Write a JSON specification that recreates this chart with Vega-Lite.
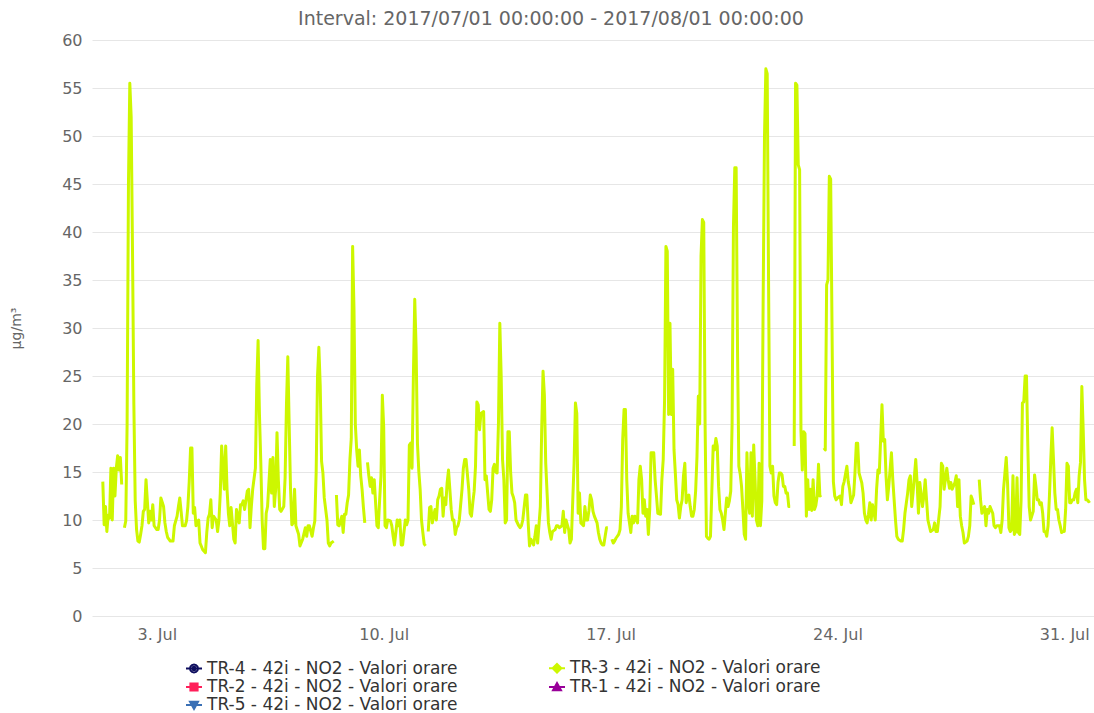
{
  "$schema": "https://vega.github.io/schema/vega-lite/v6.json",
  "width": 1002,
  "height": 576,
  "autosize": {"type": "none"},
  "padding": {"left": 92, "top": 40, "right": 0, "bottom": 97},
  "background": "white",
  "title": {"text": "Interval: 2017/07/01 00:00:00 - 2017/08/01 00:00:00", "anchor": "middle", "frame": "group", "dx": -42, "offset": 3, "fontSize": 19, "font": "DejaVu Sans", "fontWeight": "normal", "color": "#666666"},
  "config": {"view": {"stroke": null}, "font": "DejaVu Sans"},
  "data": {"values": [
    {"t":"2017-07-01T08:00","v":14.0},{"t":"2017-07-01T09:00","v":9.5},{"t":"2017-07-01T10:00","v":11.4},{"t":"2017-07-01T11:00","v":8.8},{"t":"2017-07-01T12:00","v":10.5},{"t":"2017-07-01T13:00","v":10.2},{"t":"2017-07-01T14:00","v":15.4},{"t":"2017-07-01T15:00","v":10.0},{"t":"2017-07-01T16:00","v":15.4},{"t":"2017-07-01T17:00","v":12.5},{"t":"2017-07-01T18:00","v":15.4},{"t":"2017-07-01T19:00","v":16.7},{"t":"2017-07-01T20:00","v":15.2},{"t":"2017-07-01T21:00","v":16.5},{"t":"2017-07-01T22:00","v":13.7},{"t":"2017-07-01T23:00","v":null},
    {"t":"2017-07-02T00:00","v":9.2},{"t":"2017-07-02T01:00","v":9.9},{"t":"2017-07-02T02:00","v":20},{"t":"2017-07-02T03:00","v":45},{"t":"2017-07-02T04:00","v":55.5},{"t":"2017-07-02T05:00","v":52},{"t":"2017-07-02T06:00","v":38},{"t":"2017-07-02T07:00","v":22},{"t":"2017-07-02T08:00","v":12},{"t":"2017-07-02T09:00","v":9},{"t":"2017-07-02T10:00","v":7.8},{"t":"2017-07-02T11:00","v":7.7},{"t":"2017-07-02T12:00","v":8.5},{"t":"2017-07-02T13:00","v":9.4},{"t":"2017-07-02T14:00","v":10.9},{"t":"2017-07-02T15:00","v":11.1},{"t":"2017-07-02T16:00","v":14.2},{"t":"2017-07-02T18:00","v":9.7},{"t":"2017-07-02T19:00","v":10.9},{"t":"2017-07-02T20:00","v":10.0},{"t":"2017-07-02T21:00","v":11.6},{"t":"2017-07-02T22:00","v":9.4},
    {"t":"2017-07-03T00:00","v":9.0},{"t":"2017-07-03T01:00","v":9.0},{"t":"2017-07-03T02:00","v":10.0},{"t":"2017-07-03T03:00","v":12.3},{"t":"2017-07-03T05:00","v":11.4},{"t":"2017-07-03T06:00","v":9.7},{"t":"2017-07-03T07:00","v":8.8},{"t":"2017-07-03T08:00","v":8.2},{"t":"2017-07-03T10:00","v":7.8},{"t":"2017-07-03T12:00","v":7.8},{"t":"2017-07-03T13:00","v":9.4},{"t":"2017-07-03T15:00","v":10.4},{"t":"2017-07-03T16:00","v":11.4},{"t":"2017-07-03T17:00","v":12.3},{"t":"2017-07-03T18:00","v":10.9},{"t":"2017-07-03T19:00","v":9.4},{"t":"2017-07-03T21:00","v":9.4},{"t":"2017-07-03T22:00","v":9.9},{"t":"2017-07-03T23:00","v":11.4},
    {"t":"2017-07-04T00:00","v":14},{"t":"2017-07-04T01:00","v":17.5},{"t":"2017-07-04T02:00","v":17.5},{"t":"2017-07-04T03:00","v":10.7},{"t":"2017-07-04T04:00","v":11.3},{"t":"2017-07-04T05:00","v":9.4},{"t":"2017-07-04T07:00","v":10.0},{"t":"2017-07-04T08:00","v":7.6},{"t":"2017-07-04T10:00","v":6.9},{"t":"2017-07-04T12:00","v":6.6},{"t":"2017-07-04T13:00","v":8.7},{"t":"2017-07-04T14:00","v":10.2},{"t":"2017-07-04T15:00","v":10.6},{"t":"2017-07-04T16:00","v":12.1},{"t":"2017-07-04T17:00","v":9.2},{"t":"2017-07-04T18:00","v":10.4},{"t":"2017-07-04T20:00","v":10.0},{"t":"2017-07-04T21:00","v":8.8},{"t":"2017-07-04T22:00","v":10.0},{"t":"2017-07-04T23:00","v":12.8},
    {"t":"2017-07-05T00:00","v":17.7},{"t":"2017-07-05T02:00","v":13.2},{"t":"2017-07-05T03:00","v":17.7},{"t":"2017-07-05T04:00","v":13.2},{"t":"2017-07-05T05:00","v":10.7},{"t":"2017-07-05T06:00","v":9.4},{"t":"2017-07-05T07:00","v":11.3},{"t":"2017-07-05T09:00","v":8.0},{"t":"2017-07-05T10:00","v":7.6},{"t":"2017-07-05T11:00","v":11.1},{"t":"2017-07-05T13:00","v":9.7},{"t":"2017-07-05T14:00","v":11.6},{"t":"2017-07-05T15:00","v":11.6},{"t":"2017-07-05T16:00","v":12.0},{"t":"2017-07-05T17:00","v":11.1},{"t":"2017-07-05T19:00","v":13.0},{"t":"2017-07-05T20:00","v":13.2},{"t":"2017-07-05T21:00","v":9.2},{"t":"2017-07-05T22:00","v":11.4},{"t":"2017-07-05T23:00","v":13.2},
    {"t":"2017-07-06T01:00","v":15.4},{"t":"2017-07-06T02:00","v":24},{"t":"2017-07-06T03:00","v":28.7},{"t":"2017-07-06T04:00","v":21},{"t":"2017-07-06T05:00","v":16},{"t":"2017-07-06T06:00","v":10},{"t":"2017-07-06T07:00","v":7.0},{"t":"2017-07-06T08:00","v":7.0},{"t":"2017-07-06T09:00","v":10.7},{"t":"2017-07-06T10:00","v":11.4},{"t":"2017-07-06T12:00","v":16.3},{"t":"2017-07-06T13:00","v":12.8},{"t":"2017-07-06T14:00","v":16.5},{"t":"2017-07-06T15:00","v":11.4},{"t":"2017-07-06T16:00","v":13.2},{"t":"2017-07-06T17:00","v":19.1},{"t":"2017-07-06T18:00","v":14.2},{"t":"2017-07-06T19:00","v":11.1},{"t":"2017-07-06T20:00","v":10.9},{"t":"2017-07-06T22:00","v":11.4},{"t":"2017-07-06T23:00","v":14.4},
    {"t":"2017-07-07T00:00","v":22},{"t":"2017-07-07T01:00","v":27},{"t":"2017-07-07T02:00","v":20},{"t":"2017-07-07T03:00","v":13.3},{"t":"2017-07-07T04:00","v":9.5},{"t":"2017-07-07T05:00","v":9.7},{"t":"2017-07-07T06:00","v":13.2},{"t":"2017-07-07T07:00","v":9.4},{"t":"2017-07-07T09:00","v":8.5},{"t":"2017-07-07T10:00","v":7.3},{"t":"2017-07-07T12:00","v":8.0},{"t":"2017-07-07T14:00","v":9.2},{"t":"2017-07-07T15:00","v":8.3},{"t":"2017-07-07T16:00","v":9.4},{"t":"2017-07-07T17:00","v":9.4},{"t":"2017-07-07T19:00","v":8.3},{"t":"2017-07-07T20:00","v":9.2},{"t":"2017-07-07T21:00","v":9.9},{"t":"2017-07-07T22:00","v":15},{"t":"2017-07-07T23:00","v":25},
    {"t":"2017-07-08T00:00","v":28},{"t":"2017-07-08T01:00","v":24},{"t":"2017-07-08T02:00","v":16.1},{"t":"2017-07-08T03:00","v":14.9},{"t":"2017-07-08T04:00","v":12.3},{"t":"2017-07-08T06:00","v":10.0},{"t":"2017-07-08T07:00","v":7.6},{"t":"2017-07-08T08:00","v":7.3},{"t":"2017-07-08T09:00","v":7.6},{"t":"2017-07-08T11:00","v":7.8},{"t":"2017-07-08T12:00","v":null},{"t":"2017-07-08T13:00","v":12.6},{"t":"2017-07-08T14:00","v":9.5},{"t":"2017-07-08T15:00","v":9.4},{"t":"2017-07-08T17:00","v":10.4},{"t":"2017-07-08T18:00","v":8.7},{"t":"2017-07-08T19:00","v":10.6},{"t":"2017-07-08T20:00","v":10.6},{"t":"2017-07-08T21:00","v":11.8},{"t":"2017-07-08T22:00","v":12.6},{"t":"2017-07-08T23:00","v":16.3},
    {"t":"2017-07-09T00:00","v":18.5},{"t":"2017-07-09T01:00","v":38.5},{"t":"2017-07-09T02:00","v":32},{"t":"2017-07-09T03:00","v":20},{"t":"2017-07-09T04:00","v":17.3},{"t":"2017-07-09T05:00","v":15.6},{"t":"2017-07-09T06:00","v":17.3},{"t":"2017-07-09T07:00","v":14.6},{"t":"2017-07-09T08:00","v":13.2},{"t":"2017-07-09T09:00","v":11.3},{"t":"2017-07-09T10:00","v":9.7},{"t":"2017-07-09T11:00","v":null},{"t":"2017-07-09T12:00","v":16.0},{"t":"2017-07-09T13:00","v":14.6},{"t":"2017-07-09T14:00","v":13.5},{"t":"2017-07-09T15:00","v":14.4},{"t":"2017-07-09T16:00","v":12.8},{"t":"2017-07-09T17:00","v":14.2},{"t":"2017-07-09T19:00","v":9.4},{"t":"2017-07-09T20:00","v":9.2},{"t":"2017-07-09T21:00","v":12.1},{"t":"2017-07-09T22:00","v":14.6},{"t":"2017-07-09T23:00","v":23},
    {"t":"2017-07-10T00:00","v":19.7},{"t":"2017-07-10T01:00","v":9.4},{"t":"2017-07-10T02:00","v":9.2},{"t":"2017-07-10T03:00","v":10.0},{"t":"2017-07-10T05:00","v":9.9},{"t":"2017-07-10T06:00","v":9.4},{"t":"2017-07-10T07:00","v":8.3},{"t":"2017-07-10T08:00","v":7.4},{"t":"2017-07-10T10:00","v":10.0},{"t":"2017-07-10T11:00","v":9.4},{"t":"2017-07-10T12:00","v":10.0},{"t":"2017-07-10T13:00","v":7.4},{"t":"2017-07-10T14:00","v":7.4},{"t":"2017-07-10T16:00","v":10.0},{"t":"2017-07-10T17:00","v":9.5},{"t":"2017-07-10T18:00","v":10.0},{"t":"2017-07-10T19:00","v":17.8},{"t":"2017-07-10T20:00","v":18.0},{"t":"2017-07-10T21:00","v":15.4},{"t":"2017-07-10T22:00","v":25},{"t":"2017-07-10T23:00","v":33},
    {"t":"2017-07-11T00:00","v":28},{"t":"2017-07-11T01:00","v":18},{"t":"2017-07-11T02:00","v":15.1},{"t":"2017-07-11T03:00","v":13.2},{"t":"2017-07-11T04:00","v":10.0},{"t":"2017-07-11T05:00","v":8.7},{"t":"2017-07-11T06:00","v":7.5},{"t":"2017-07-11T07:00","v":7.3},{"t":"2017-07-11T08:00","v":null},{"t":"2017-07-11T09:00","v":8.8},{"t":"2017-07-11T10:00","v":11.3},{"t":"2017-07-11T11:00","v":11.4},{"t":"2017-07-11T12:00","v":9.7},{"t":"2017-07-11T13:00","v":10.4},{"t":"2017-07-11T14:00","v":11.1},{"t":"2017-07-11T15:00","v":10.0},{"t":"2017-07-11T16:00","v":12.1},{"t":"2017-07-11T17:00","v":12.5},{"t":"2017-07-11T18:00","v":13.2},{"t":"2017-07-11T19:00","v":13.3},{"t":"2017-07-11T20:00","v":10.4},{"t":"2017-07-11T21:00","v":12.3},{"t":"2017-07-11T22:00","v":11.6},{"t":"2017-07-11T23:00","v":13.9},
    {"t":"2017-07-12T00:00","v":15.2},{"t":"2017-07-12T01:00","v":13.2},{"t":"2017-07-12T02:00","v":11.1},{"t":"2017-07-12T03:00","v":10.0},{"t":"2017-07-12T04:00","v":10.0},{"t":"2017-07-12T05:00","v":8.5},{"t":"2017-07-12T06:00","v":9.2},{"t":"2017-07-12T07:00","v":9.4},{"t":"2017-07-12T08:00","v":10.0},{"t":"2017-07-12T10:00","v":13.2},{"t":"2017-07-12T11:00","v":15.4},{"t":"2017-07-12T12:00","v":16.3},{"t":"2017-07-12T13:00","v":16.3},{"t":"2017-07-12T15:00","v":13.2},{"t":"2017-07-12T16:00","v":10.7},{"t":"2017-07-12T17:00","v":10.4},{"t":"2017-07-12T18:00","v":11.8},{"t":"2017-07-12T19:00","v":13},{"t":"2017-07-12T20:00","v":15.6},{"t":"2017-07-12T21:00","v":22.3},{"t":"2017-07-12T22:00","v":22.0},{"t":"2017-07-12T23:00","v":19.4},
    {"t":"2017-07-13T00:00","v":21.1},{"t":"2017-07-13T02:00","v":21.3},{"t":"2017-07-13T03:00","v":14.2},{"t":"2017-07-13T04:00","v":14.6},{"t":"2017-07-13T05:00","v":12.8},{"t":"2017-07-13T06:00","v":11.1},{"t":"2017-07-13T07:00","v":10.9},{"t":"2017-07-13T08:00","v":12.1},{"t":"2017-07-13T09:00","v":15.4},{"t":"2017-07-13T10:00","v":15.8},{"t":"2017-07-13T11:00","v":15},{"t":"2017-07-13T12:00","v":14.9},{"t":"2017-07-13T13:00","v":20.1},{"t":"2017-07-13T14:00","v":30.5},{"t":"2017-07-13T15:00","v":25},{"t":"2017-07-13T16:00","v":16.3},{"t":"2017-07-13T17:00","v":14.2},{"t":"2017-07-13T18:00","v":9.7},{"t":"2017-07-13T19:00","v":10.0},{"t":"2017-07-13T20:00","v":19.2},{"t":"2017-07-13T21:00","v":19.2},{"t":"2017-07-13T22:00","v":15},{"t":"2017-07-13T23:00","v":12.8},
    {"t":"2017-07-14T00:00","v":12.4},{"t":"2017-07-14T01:00","v":11.8},{"t":"2017-07-14T02:00","v":10.0},{"t":"2017-07-14T04:00","v":9.4},{"t":"2017-07-14T05:00","v":9.2},{"t":"2017-07-14T06:00","v":9.4},{"t":"2017-07-14T07:00","v":10.0},{"t":"2017-07-14T09:00","v":12.6},{"t":"2017-07-14T10:00","v":12.6},{"t":"2017-07-14T11:00","v":9.7},{"t":"2017-07-14T12:00","v":7.3},{"t":"2017-07-14T13:00","v":8.0},{"t":"2017-07-14T15:00","v":7.4},{"t":"2017-07-14T16:00","v":8.3},{"t":"2017-07-14T17:00","v":9.4},{"t":"2017-07-14T18:00","v":7.6},{"t":"2017-07-14T20:00","v":11.4},{"t":"2017-07-14T21:00","v":19.4},{"t":"2017-07-14T22:00","v":25.5},{"t":"2017-07-14T23:00","v":23},
    {"t":"2017-07-15T00:00","v":15.9},{"t":"2017-07-15T01:00","v":12.8},{"t":"2017-07-15T02:00","v":9.7},{"t":"2017-07-15T03:00","v":8.7},{"t":"2017-07-15T04:00","v":8.0},{"t":"2017-07-15T05:00","v":8.8},{"t":"2017-07-15T07:00","v":9.0},{"t":"2017-07-15T08:00","v":9.4},{"t":"2017-07-15T09:00","v":9.4},{"t":"2017-07-15T10:00","v":9.2},{"t":"2017-07-15T12:00","v":9.4},{"t":"2017-07-15T13:00","v":10.9},{"t":"2017-07-15T14:00","v":8.7},{"t":"2017-07-15T15:00","v":10.0},{"t":"2017-07-15T17:00","v":9.0},{"t":"2017-07-15T18:00","v":7.6},{"t":"2017-07-15T19:00","v":8.0},{"t":"2017-07-15T20:00","v":12},{"t":"2017-07-15T21:00","v":15.9},{"t":"2017-07-15T22:00","v":22.2},{"t":"2017-07-15T23:00","v":21.1},
    {"t":"2017-07-16T00:00","v":10.7},{"t":"2017-07-16T01:00","v":12.8},{"t":"2017-07-16T02:00","v":9.7},{"t":"2017-07-16T04:00","v":9.4},{"t":"2017-07-16T05:00","v":11.4},{"t":"2017-07-16T06:00","v":10.0},{"t":"2017-07-16T07:00","v":10.0},{"t":"2017-07-16T08:00","v":11},{"t":"2017-07-16T09:00","v":12.6},{"t":"2017-07-16T10:00","v":12.1},{"t":"2017-07-16T11:00","v":10.9},{"t":"2017-07-16T12:00","v":10.4},{"t":"2017-07-16T14:00","v":9.7},{"t":"2017-07-16T15:00","v":8.7},{"t":"2017-07-16T16:00","v":8.0},{"t":"2017-07-16T17:00","v":7.6},{"t":"2017-07-16T18:00","v":7.4},{"t":"2017-07-16T19:00","v":7.4},{"t":"2017-07-16T20:00","v":8.3},{"t":"2017-07-16T21:00","v":9.2},{"t":"2017-07-16T22:00","v":9.2},{"t":"2017-07-16T23:00","v":null},
    {"t":"2017-07-17T01:00","v":8.0},{"t":"2017-07-17T02:00","v":7.6},{"t":"2017-07-17T03:00","v":7.8},{"t":"2017-07-17T04:00","v":8.1},{"t":"2017-07-17T06:00","v":8.5},{"t":"2017-07-17T07:00","v":9.0},{"t":"2017-07-17T08:00","v":11.4},{"t":"2017-07-17T09:00","v":18.4},{"t":"2017-07-17T10:00","v":21.5},{"t":"2017-07-17T11:00","v":21.5},{"t":"2017-07-17T12:00","v":14.2},{"t":"2017-07-17T13:00","v":10.7},{"t":"2017-07-17T14:00","v":9.7},{"t":"2017-07-17T15:00","v":8.7},{"t":"2017-07-17T16:00","v":10.4},{"t":"2017-07-17T17:00","v":9.7},{"t":"2017-07-17T18:00","v":10.4},{"t":"2017-07-17T20:00","v":9.7},{"t":"2017-07-17T21:00","v":14.2},{"t":"2017-07-17T22:00","v":15.6},{"t":"2017-07-17T23:00","v":14.2},
    {"t":"2017-07-18T00:00","v":10.7},{"t":"2017-07-18T01:00","v":12.1},{"t":"2017-07-18T02:00","v":10.4},{"t":"2017-07-18T03:00","v":11.1},{"t":"2017-07-18T04:00","v":8.5},{"t":"2017-07-18T05:00","v":11.1},{"t":"2017-07-18T06:00","v":17.0},{"t":"2017-07-18T08:00","v":17.0},{"t":"2017-07-18T09:00","v":14.2},{"t":"2017-07-18T10:00","v":12.5},{"t":"2017-07-18T11:00","v":10.7},{"t":"2017-07-18T13:00","v":10.6},{"t":"2017-07-18T14:00","v":14.2},{"t":"2017-07-18T15:00","v":16.3},{"t":"2017-07-18T16:00","v":22.5},{"t":"2017-07-18T17:00","v":38.5},{"t":"2017-07-18T18:00","v":38},{"t":"2017-07-18T19:00","v":21},{"t":"2017-07-18T20:00","v":30.5},{"t":"2017-07-18T21:00","v":21},{"t":"2017-07-18T22:00","v":25.7},{"t":"2017-07-18T23:00","v":17.3},
    {"t":"2017-07-19T00:00","v":14.8},{"t":"2017-07-19T01:00","v":12.1},{"t":"2017-07-19T02:00","v":11.6},{"t":"2017-07-19T03:00","v":10.2},{"t":"2017-07-19T04:00","v":11.4},{"t":"2017-07-19T05:00","v":12.1},{"t":"2017-07-19T06:00","v":14.6},{"t":"2017-07-19T07:00","v":15.9},{"t":"2017-07-19T08:00","v":11.8},{"t":"2017-07-19T09:00","v":12.5},{"t":"2017-07-19T10:00","v":12.6},{"t":"2017-07-19T11:00","v":11.4},{"t":"2017-07-19T12:00","v":10.4},{"t":"2017-07-19T13:00","v":10.4},{"t":"2017-07-19T14:00","v":11.1},{"t":"2017-07-19T15:00","v":13},{"t":"2017-07-19T16:00","v":16.6},{"t":"2017-07-19T17:00","v":22.9},{"t":"2017-07-19T18:00","v":20},{"t":"2017-07-19T19:00","v":37.5},{"t":"2017-07-19T20:00","v":41.3},{"t":"2017-07-19T21:00","v":41},{"t":"2017-07-19T22:00","v":20},{"t":"2017-07-19T23:00","v":8.3},
    {"t":"2017-07-20T00:00","v":8.1},{"t":"2017-07-20T01:00","v":8.0},{"t":"2017-07-20T02:00","v":8.3},{"t":"2017-07-20T03:00","v":13},{"t":"2017-07-20T04:00","v":17.7},{"t":"2017-07-20T05:00","v":17.3},{"t":"2017-07-20T06:00","v":18.5},{"t":"2017-07-20T07:00","v":17.7},{"t":"2017-07-20T08:00","v":13.5},{"t":"2017-07-20T09:00","v":11.1},{"t":"2017-07-20T10:00","v":10.7},{"t":"2017-07-20T11:00","v":10.0},{"t":"2017-07-20T12:00","v":9.0},{"t":"2017-07-20T13:00","v":10.7},{"t":"2017-07-20T14:00","v":12.3},{"t":"2017-07-20T15:00","v":11.4},{"t":"2017-07-20T16:00","v":12},{"t":"2017-07-20T17:00","v":13},{"t":"2017-07-20T18:00","v":20},{"t":"2017-07-20T19:00","v":40.5},{"t":"2017-07-20T20:00","v":46.7},{"t":"2017-07-20T21:00","v":46.7},{"t":"2017-07-20T22:00","v":28},{"t":"2017-07-20T23:00","v":15.6},
    {"t":"2017-07-21T00:00","v":14.8},{"t":"2017-07-21T01:00","v":13.5},{"t":"2017-07-21T02:00","v":11.1},{"t":"2017-07-21T03:00","v":8.5},{"t":"2017-07-21T04:00","v":8.0},{"t":"2017-07-21T05:00","v":17.0},{"t":"2017-07-21T06:00","v":12},{"t":"2017-07-21T07:00","v":10.7},{"t":"2017-07-21T08:00","v":17.0},{"t":"2017-07-21T09:00","v":10.4},{"t":"2017-07-21T10:00","v":17.8},{"t":"2017-07-21T11:00","v":14.2},{"t":"2017-07-21T12:00","v":10.0},{"t":"2017-07-21T13:00","v":9.4},{"t":"2017-07-21T14:00","v":15.9},{"t":"2017-07-21T15:00","v":9.4},{"t":"2017-07-21T16:00","v":12},{"t":"2017-07-21T17:00","v":33},{"t":"2017-07-21T18:00","v":50},{"t":"2017-07-21T19:00","v":57},{"t":"2017-07-21T20:00","v":56.5},{"t":"2017-07-21T21:00","v":35},{"t":"2017-07-21T22:00","v":15.6},{"t":"2017-07-21T23:00","v":14.9},
    {"t":"2017-07-22T00:00","v":15.6},{"t":"2017-07-22T01:00","v":12.5},{"t":"2017-07-22T02:00","v":11.8},{"t":"2017-07-22T03:00","v":11.6},{"t":"2017-07-22T04:00","v":13.9},{"t":"2017-07-22T05:00","v":14.9},{"t":"2017-07-22T06:00","v":14.9},{"t":"2017-07-22T07:00","v":14.7},{"t":"2017-07-22T08:00","v":13.5},{"t":"2017-07-22T09:00","v":13.5},{"t":"2017-07-22T10:00","v":12.8},{"t":"2017-07-22T11:00","v":12.8},{"t":"2017-07-22T12:00","v":11.4},{"t":"2017-07-22T13:00","v":11.4},{"t":"2017-07-22T14:00","v":null},{"t":"2017-07-22T16:00","v":17.7},{"t":"2017-07-22T17:00","v":55.5},{"t":"2017-07-22T18:00","v":55.3},{"t":"2017-07-22T19:00","v":47},{"t":"2017-07-22T20:00","v":46.5},{"t":"2017-07-22T21:00","v":19.3},{"t":"2017-07-22T22:00","v":15.2},{"t":"2017-07-22T23:00","v":19.2},
    {"t":"2017-07-23T00:00","v":19.0},{"t":"2017-07-23T01:00","v":10.4},{"t":"2017-07-23T02:00","v":14.2},{"t":"2017-07-23T03:00","v":11.1},{"t":"2017-07-23T04:00","v":13.2},{"t":"2017-07-23T05:00","v":11.0},{"t":"2017-07-23T06:00","v":14.2},{"t":"2017-07-23T07:00","v":11.1},{"t":"2017-07-23T08:00","v":11.5},{"t":"2017-07-23T09:00","v":12.5},{"t":"2017-07-23T10:00","v":15.8},{"t":"2017-07-23T11:00","v":12.5},{"t":"2017-07-23T12:00","v":12.6},{"t":"2017-07-23T13:00","v":null},{"t":"2017-07-23T14:00","v":17.5},{"t":"2017-07-23T15:00","v":17.3},{"t":"2017-07-23T16:00","v":34.5},{"t":"2017-07-23T17:00","v":35},{"t":"2017-07-23T18:00","v":45.8},{"t":"2017-07-23T19:00","v":45.5},{"t":"2017-07-23T20:00","v":30},{"t":"2017-07-23T21:00","v":14},{"t":"2017-07-23T22:00","v":12.5},{"t":"2017-07-23T23:00","v":12.1},
    {"t":"2017-07-24T00:00","v":12.3},{"t":"2017-07-24T02:00","v":12.5},{"t":"2017-07-24T03:00","v":11.6},{"t":"2017-07-24T04:00","v":13.5},{"t":"2017-07-24T05:00","v":14.0},{"t":"2017-07-24T07:00","v":15.6},{"t":"2017-07-24T08:00","v":14.0},{"t":"2017-07-24T09:00","v":13.2},{"t":"2017-07-24T10:00","v":11.8},{"t":"2017-07-24T12:00","v":12.6},{"t":"2017-07-24T13:00","v":14.9},{"t":"2017-07-24T14:00","v":18.0},{"t":"2017-07-24T15:00","v":18.0},{"t":"2017-07-24T16:00","v":14.9},{"t":"2017-07-24T18:00","v":13.9},{"t":"2017-07-24T19:00","v":12.8},{"t":"2017-07-24T20:00","v":10.7},{"t":"2017-07-24T21:00","v":10.0},{"t":"2017-07-24T22:00","v":9.7},{"t":"2017-07-24T23:00","v":10.6},
    {"t":"2017-07-25T00:00","v":11.8},{"t":"2017-07-25T01:00","v":10.0},{"t":"2017-07-25T02:00","v":11.6},{"t":"2017-07-25T04:00","v":10.0},{"t":"2017-07-25T05:00","v":13.2},{"t":"2017-07-25T06:00","v":15.2},{"t":"2017-07-25T07:00","v":14.9},{"t":"2017-07-25T08:00","v":18.4},{"t":"2017-07-25T09:00","v":22.0},{"t":"2017-07-25T10:00","v":18.2},{"t":"2017-07-25T11:00","v":18.4},{"t":"2017-07-25T12:00","v":14.6},{"t":"2017-07-25T13:00","v":12.1},{"t":"2017-07-25T14:00","v":13.5},{"t":"2017-07-25T16:00","v":17.0},{"t":"2017-07-25T17:00","v":14.2},{"t":"2017-07-25T18:00","v":12.1},{"t":"2017-07-25T19:00","v":10.0},{"t":"2017-07-25T20:00","v":8.3},{"t":"2017-07-25T21:00","v":8.0},{"t":"2017-07-25T23:00","v":7.8},
    {"t":"2017-07-26T00:00","v":7.8},{"t":"2017-07-26T01:00","v":9.0},{"t":"2017-07-26T02:00","v":10.7},{"t":"2017-07-26T04:00","v":12.8},{"t":"2017-07-26T05:00","v":14.2},{"t":"2017-07-26T06:00","v":14.6},{"t":"2017-07-26T07:00","v":11.4},{"t":"2017-07-26T08:00","v":12.8},{"t":"2017-07-26T10:00","v":16.3},{"t":"2017-07-26T11:00","v":13.9},{"t":"2017-07-26T12:00","v":10.7},{"t":"2017-07-26T13:00","v":13.9},{"t":"2017-07-26T15:00","v":11.4},{"t":"2017-07-26T16:00","v":12.5},{"t":"2017-07-26T17:00","v":14.2},{"t":"2017-07-26T18:00","v":12.1},{"t":"2017-07-26T19:00","v":10.0},{"t":"2017-07-26T20:00","v":9.4},{"t":"2017-07-26T21:00","v":8.8},{"t":"2017-07-26T23:00","v":9.0},
    {"t":"2017-07-27T00:00","v":9.7},{"t":"2017-07-27T01:00","v":8.8},{"t":"2017-07-27T02:00","v":8.8},{"t":"2017-07-27T04:00","v":11.4},{"t":"2017-07-27T05:00","v":15.9},{"t":"2017-07-27T06:00","v":15.6},{"t":"2017-07-27T07:00","v":13.2},{"t":"2017-07-27T09:00","v":15.4},{"t":"2017-07-27T10:00","v":14.2},{"t":"2017-07-27T11:00","v":13.3},{"t":"2017-07-27T12:00","v":13.9},{"t":"2017-07-27T13:00","v":13.2},{"t":"2017-07-27T15:00","v":13.9},{"t":"2017-07-27T16:00","v":14.6},{"t":"2017-07-27T17:00","v":11.4},{"t":"2017-07-27T18:00","v":14.2},{"t":"2017-07-27T19:00","v":10.4},{"t":"2017-07-27T20:00","v":9.4},{"t":"2017-07-27T21:00","v":8.7},{"t":"2017-07-27T22:00","v":7.6},
    {"t":"2017-07-28T00:00","v":7.8},{"t":"2017-07-28T01:00","v":8.3},{"t":"2017-07-28T02:00","v":9.4},{"t":"2017-07-28T03:00","v":12.5},{"t":"2017-07-28T04:00","v":12.1},{"t":"2017-07-28T05:00","v":11.6},{"t":"2017-07-28T06:00","v":null},{"t":"2017-07-28T09:00","v":14.2},{"t":"2017-07-28T10:00","v":12.1},{"t":"2017-07-28T11:00","v":10.7},{"t":"2017-07-28T13:00","v":11.4},{"t":"2017-07-28T14:00","v":9.4},{"t":"2017-07-28T15:00","v":11.1},{"t":"2017-07-28T16:00","v":10.7},{"t":"2017-07-28T17:00","v":11.4},{"t":"2017-07-28T19:00","v":10.7},{"t":"2017-07-28T20:00","v":9.4},{"t":"2017-07-28T21:00","v":9.2},{"t":"2017-07-28T22:00","v":9.4},
    {"t":"2017-07-29T00:00","v":9.4},{"t":"2017-07-29T01:00","v":8.7},{"t":"2017-07-29T02:00","v":10.0},{"t":"2017-07-29T03:00","v":13.2},{"t":"2017-07-29T05:00","v":16.5},{"t":"2017-07-29T06:00","v":13.8},{"t":"2017-07-29T07:00","v":9.2},{"t":"2017-07-29T08:00","v":8.8},{"t":"2017-07-29T09:00","v":9.0},{"t":"2017-07-29T10:00","v":14.6},{"t":"2017-07-29T11:00","v":8.5},{"t":"2017-07-29T12:00","v":8.8},{"t":"2017-07-29T13:00","v":14.4},{"t":"2017-07-29T14:00","v":8.7},{"t":"2017-07-29T15:00","v":8.5},{"t":"2017-07-29T16:00","v":12.0},{"t":"2017-07-29T17:00","v":22.2},{"t":"2017-07-29T18:00","v":22.3},{"t":"2017-07-29T19:00","v":25},{"t":"2017-07-29T20:00","v":25},{"t":"2017-07-29T21:00","v":17.7},{"t":"2017-07-29T22:00","v":11.4},{"t":"2017-07-29T23:00","v":10.0},
    {"t":"2017-07-30T01:00","v":10.9},{"t":"2017-07-30T02:00","v":14.7},{"t":"2017-07-30T03:00","v":13.5},{"t":"2017-07-30T04:00","v":12.1},{"t":"2017-07-30T05:00","v":12.1},{"t":"2017-07-30T06:00","v":11.6},{"t":"2017-07-30T07:00","v":11.8},{"t":"2017-07-30T08:00","v":10.7},{"t":"2017-07-30T09:00","v":8.8},{"t":"2017-07-30T10:00","v":8.8},{"t":"2017-07-30T11:00","v":8.3},{"t":"2017-07-30T12:00","v":9.4},{"t":"2017-07-30T13:00","v":12.5},{"t":"2017-07-30T14:00","v":16.3},{"t":"2017-07-30T15:00","v":19.6},{"t":"2017-07-30T16:00","v":16.3},{"t":"2017-07-30T17:00","v":12.8},{"t":"2017-07-30T18:00","v":11.1},{"t":"2017-07-30T19:00","v":11.1},{"t":"2017-07-30T20:00","v":10.0},{"t":"2017-07-30T21:00","v":9.4},{"t":"2017-07-30T22:00","v":8.7},{"t":"2017-07-30T23:00","v":8.8},
    {"t":"2017-07-31T00:00","v":8.8},{"t":"2017-07-31T01:00","v":11.1},{"t":"2017-07-31T02:00","v":15.9},{"t":"2017-07-31T03:00","v":15.6},{"t":"2017-07-31T04:00","v":11.8},{"t":"2017-07-31T05:00","v":11.8},{"t":"2017-07-31T06:00","v":12.1},{"t":"2017-07-31T07:00","v":12.1},{"t":"2017-07-31T08:00","v":12.8},{"t":"2017-07-31T09:00","v":13.2},{"t":"2017-07-31T10:00","v":11.8},{"t":"2017-07-31T11:00","v":14.6},{"t":"2017-07-31T12:00","v":16},{"t":"2017-07-31T13:00","v":23.9},{"t":"2017-07-31T14:00","v":19.4},{"t":"2017-07-31T15:00","v":14.2},{"t":"2017-07-31T16:00","v":12.1},{"t":"2017-07-31T17:00","v":12.1},{"t":"2017-07-31T18:00","v":11.9},{"t":"2017-07-31T19:00","v":12.0}
  ]},
  "encoding": {
    "x": {"field": "t", "type": "temporal",
      "scale": {"domain": [{"year": 2017, "month": 7, "date": 1, "hours": 0}, {"year": 2017, "month": 7, "date": 31, "hours": 22}]},
      "axis": {"title": null, "values": [{"year": 2017, "month": 7, "date": 3}, {"year": 2017, "month": 7, "date": 10}, {"year": 2017, "month": 7, "date": 17}, {"year": 2017, "month": 7, "date": 24}, {"year": 2017, "month": 7, "date": 31}],
        "format": "%-d. %b", "labelFontSize": 16, "labelColor": "#666666", "labelPadding": 10, "ticks": false, "domain": false, "grid": false, "labelFont": "DejaVu Sans"}},
    "y": {"field": "v", "type": "quantitative",
      "scale": {"domain": [0, 60], "nice": false},
      "axis": {"values": [0, 5, 10, 15, 20, 25, 30, 35, 40, 45, 50, 55, 60], "title": "µg/m³", "titleFontSize": 14, "titleFont": "DejaVu Sans", "titleFontWeight": "normal", "titleColor": "#666666", "titleX": -76, "titleY": 288, "titleAngle": -90, "titleAlign": "center", "titleBaseline": "middle",
        "labelFontSize": 16, "labelColor": "#666666", "labelPadding": 10, "labelFont": "DejaVu Sans", "ticks": false, "domain": false, "grid": true, "gridColor": "#e6e6e6", "gridWidth": 1}}
  },
  "layer": [
    {"mark": {"type": "line", "color": "#cdf700", "strokeWidth": 3, "strokeJoin": "round", "invalid": "break-paths-show-domains"}},
    {"transform": [{"filter": "datum.v > 1000"}],
     "mark": {"type": "point", "filled": false, "opacity": 1, "strokeWidth": 2},
     "encoding": {
       "color": {"field": "s", "type": "nominal",
         "scale": {"domain": ["TR-4 - 42i - NO2 - Valori orare", "TR-3 - 42i - NO2 - Valori orare", "TR-2 - 42i - NO2 - Valori orare", "TR-1 - 42i - NO2 - Valori orare", "TR-5 - 42i - NO2 - Valori orare"],
                   "range": ["#0d0d5e", "#cdf700", "#ff1f5a", "#990099", "#3a70b5"]},
         "legend": {"orient": "none", "legendX": 93, "legendY": 619, "direction": "horizontal", "columns": 2, "title": null,
           "labelFontSize": 17, "labelColor": "#333333", "labelFont": "DejaVu Sans", "labelLimit": 600, "symbolSize": 256, "symbolStrokeWidth": 2, "symbolOpacity": 1, "rowPadding": 1, "columnPadding": 87, "labelOffset": 4}},
       "shape": {"field": "s", "type": "nominal",
         "scale": {"domain": ["TR-4 - 42i - NO2 - Valori orare", "TR-3 - 42i - NO2 - Valori orare", "TR-2 - 42i - NO2 - Valori orare", "TR-1 - 42i - NO2 - Valori orare", "TR-5 - 42i - NO2 - Valori orare"],
                   "range": ["M-1,0L1,0M0.5,0L0.433,0.25L0.25,0.433L0,0.5L-0.25,0.433L-0.433,0.25L-0.5,0L-0.433,-0.25L-0.25,-0.433L0,-0.5L0.25,-0.433L0.433,-0.25ZM0.22,0L0.11,0.19L-0.11,0.19L-0.22,0L-0.11,-0.19L0.11,-0.19Z",
                             "M-1,0L1,0M0,-0.55L0.55,0L0,0.55L-0.55,0ZM0,-0.25L0.25,0L0,0.25L-0.25,0Z",
                             "M-1,0L1,0M-0.45,-0.45L0.45,-0.45L0.45,0.45L-0.45,0.45ZM-0.2,-0.2L0.2,-0.2L0.2,0.2L-0.2,0.2Z",
                             "M-1,0L1,0M0,-0.5L0.5,0.4L-0.5,0.4ZM0,-0.15L0.2,0.22L-0.2,0.22Z",
                             "M-1,0L1,0M0,0.5L0.5,-0.4L-0.5,-0.4ZM0,0.15L0.2,-0.22L-0.2,-0.22Z"]},
         "legend": {"orient": "none", "legendX": 93, "legendY": 619, "direction": "horizontal", "columns": 2, "title": null,
           "labelFontSize": 17, "labelColor": "#333333", "labelFont": "DejaVu Sans", "labelLimit": 600, "symbolSize": 256, "symbolStrokeWidth": 2, "symbolOpacity": 1, "rowPadding": 1, "columnPadding": 87, "labelOffset": 4}}
     }}
  ]
}
